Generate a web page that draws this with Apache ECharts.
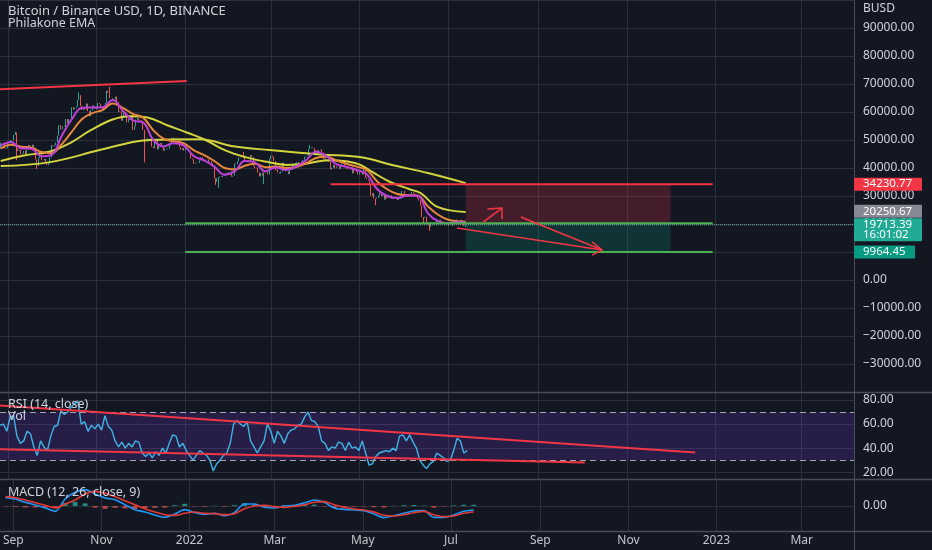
<!DOCTYPE html>
<html><head><meta charset="utf-8">
<script src="https://cdn.jsdelivr.net/npm/echarts@6/dist/echarts.min.js"></script>
<style>html,body{margin:0;padding:0;background:#131722}#c{width:932px;height:550px}</style>
</head><body><div id="c"></div><script>
// ---------- data ----------
const candleStart = '2021-08-27';
const firstOpen = 46800;
const closes = [
49000,48900,48800,46900,47100,
48800,49300,50000,49900,51800,52700,46900,46100,46400,44900,45200,46100,44900,47100,48200,47800,47300,48300,47300,43000,40700,43600,44900,42800,42700,43200,42200,41000,41500,43800,
48100,47700,48200,49100,51500,55300,53800,53900,54900,54700,57500,56000,57400,57300,61700,60900,61500,62000,64300,66000,62200,60700,61300,60900,63000,60300,58500,60600,62300,61900,61300,
61000,63200,62900,61400,61000,61500,63300,67600,66900,64900,64900,64100,64400,65500,63600,60100,60400,56900,58100,59800,58700,56300,57600,57200,58900,53600,54800,57300,57800,57000,
57200,56500,53600,49200,49400,50600,50600,50500,47700,47100,49400,50100,46700,48400,48900,47600,46200,46900,46700,46900,49000,48600,50800,50400,50800,50700,50600,47500,46500,47100,46200,
47700,47300,46400,45800,43400,43100,41500,41700,41900,41800,42700,43900,42600,43100,43200,43100,42200,42400,41700,40700,36400,35100,36300,36700,37000,36800,37200,37700,38200,37900,38500,
38700,36900,37300,41600,41400,42400,43800,44100,44400,43600,42400,42200,42100,42600,44600,43900,40600,40000,40100,38400,37000,38300,37300,38300,39200,39100,37700,43200,
44400,44000,42500,39200,39400,38400,38000,38700,41900,39400,38800,38800,37800,39700,39300,41100,40900,41800,42200,41300,41000,42400,42900,44000,44300,44500,46800,47100,47400,47100,45500,
46300,45800,46400,46600,45500,43200,43400,42300,42800,42200,39500,40100,41100,39900,40500,40400,39700,40800,41500,41400,40500,39700,39500,39500,40400,38100,39200,39700,38600,37700,
38500,38500,37700,39700,36600,36000,35500,34100,30100,31000,29100,29000,29300,30100,31300,29900,30400,28700,30300,29200,29400,30300,29100,29700,29600,29300,28600,29000,29400,31700,31800,
29800,30500,29700,29900,29900,31400,31100,30200,30100,29100,28400,26600,22500,22200,22600,20400,20500,19000,20600,20600,20700,20000,21100,21200,21500,21000,20700,20300,20100,19800,
19300,19300,19300,20200,20200,20500,21600,21600,21600,20900,20000,19300,19713.39
];
const wickLows = [['2021-09-07',42800],['2021-09-21',39600],['2021-12-04',42000],['2022-01-22',34000],['2022-01-24',33000],['2022-02-24',34300],['2022-05-12',26700],['2022-06-14',20100],['2022-06-18',17600],['2022-07-13',18900]];
const wickHighs = [['2021-09-06',52900],['2021-10-20',67000],['2021-11-10',69000],['2022-02-10',45800],['2022-03-28',48200]];

const weekDates = ['2021-08-27','2021-09-03','2021-09-10','2021-09-17','2021-09-24','2021-10-01','2021-10-08','2021-10-15','2021-10-22','2021-10-29','2021-11-05','2021-11-12','2021-11-19','2021-11-26','2021-12-03','2021-12-10','2021-12-17','2021-12-24','2021-12-31','2022-01-07','2022-01-14','2022-01-21','2022-01-28','2022-02-04','2022-02-11','2022-02-18','2022-02-25','2022-03-04','2022-03-11','2022-03-18','2022-03-25','2022-04-01','2022-04-08','2022-04-15','2022-04-22','2022-04-29','2022-05-06','2022-05-13','2022-05-20','2022-05-27','2022-06-03','2022-06-10','2022-06-17','2022-06-24','2022-07-01','2022-07-08','2022-07-13'];
const emaFast = [48000,49300,47000,46900,44200,44700,51500,57500,61500,61600,61700,64300,60500,57000,56300,50000,47700,48800,48000,44200,42700,40500,37600,38800,42500,42000,38800,40200,39300,40400,42700,45800,44300,41400,40400,39300,37800,32500,30000,29300,30200,30100,23800,21000,20300,20700,20400];
const emaMid  = [47000,48300,47600,47200,45700,45300,48500,53000,57500,59600,60700,63000,61500,59300,58000,53500,50500,49500,48800,46300,44600,42500,40000,39500,40800,41500,40300,40500,40000,40300,41600,43600,44000,42700,41500,40500,39300,35300,32400,30700,30300,30100,26300,23300,21500,21000,20800];
const ema55 = [['2021-08-27',42500],['2021-09-12',44500],['2021-09-30',45900],['2021-10-14',49000],['2021-10-28',53500],['2021-11-12',57300],['2021-11-24',58500],['2021-12-06',58000],['2021-12-20',55200],['2022-01-03',52500],['2022-01-15',50000],['2022-01-29',46200],['2022-02-12',43800],['2022-02-26',42200],['2022-03-12',41100],['2022-03-26',41600],['2022-04-09',42800],['2022-04-23',42300],['2022-05-02',41000],['2022-05-10',38500],['2022-05-22',35000],['2022-06-04',32500],['2022-06-12',31000],['2022-06-24',26000],['2022-07-13',24300]];
const ema200 = [['2021-08-27',40700],['2021-09-30',42100],['2021-11-03',46400],['2021-11-26',49300],['2021-12-07',50000],['2022-01-11',50300],['2022-02-03',47800],['2022-02-28',46400],['2022-04-04',44800],['2022-05-01',43900],['2022-05-24',41000],['2022-06-17',38200],['2022-07-13',34600]];

// drawings (date, price)
const trendLine = [['2021-08-26T12:00:00Z',68100],['2022-01-02',71100]];
const stopLevel = [['2022-04-11',34230.77],['2022-12-30',34230.77]];
const entryLevel = [['2022-01-01',20250.67],['2022-12-30',20250.67]];
const targetLevel = [['2022-01-01',9964.45],['2022-12-30',9964.45]];
const boxStart = '2022-07-13', boxEnd = '2022-12-01';
const arrowUp = [['2022-07-25',20700],['2022-08-07',25700]];
const arrowUpHead = [['2022-07-28',25400],['2022-08-07',25700],['2022-08-07',21800]];
const arrowDown1 = [['2022-08-20',22500],['2022-10-15',10700]];
const arrowDown2 = [['2022-07-07',18600],['2022-10-15',10700]];
const arrowDownHead = [['2022-10-08',13600],['2022-10-15',10700],['2022-10-08',8900]];
const lastPrice = 19713.39;

// RSI
const rsiStart = '2021-08-26T12:00:00Z';
const rsiStepDays = 2.33;
const rsiValues = [59,60,54,66,67,50,44,46,54,52,41,34,46,41,38,50,58,59,71,68,70,74,77,79,60,62,54,59,56,60,55,67,58,55,46,41,45,40,44,41,46,45,36,33,36,32,37,34,40,36,44,51,50,41,44,38,34,30,34,38,36,34,30,21,27,30,34,36,44,60,63,
60,58,62,46,41,36,41,46,60,54,44,54,50,44,52,55,56,59,60,66,70,63,62,58,46,44,38,41,40,45,44,38,45,40,41,38,46,36,26,27,33,36,37,38,37,40,38,50,51,46,51,45,40,30,26,23,27,29,36,34,32,29,30,38,48,46,36,38];
const rsiUpper = [['2021-08-26T12:00:00Z',75.5],['2022-12-18',36.4]];
const rsiLower = [['2021-08-26T12:00:00Z',39.0],['2022-10-03',28.2]];

// MACD
const macdStart = '2021-08-26T12:00:00Z';
const macdStepDays = 6.9;
const macdLine = [1300,1050,550,150,-300,-800,1050,2050,2450,1800,1200,950,200,-550,-900,-1350,-1700,-1200,-550,-1000,-1250,-1100,-1450,-950,300,300,-200,-300,0,100,450,900,550,-300,-500,-600,-700,-1200,-1750,-1450,-1100,-750,-700,-1700,-1700,-1350,-800,-600];
const signalLine = [1400,1250,900,500,100,-300,300,900,1800,2200,1900,1400,800,200,-400,-900,-1300,-1400,-1100,-900,-1100,-1150,-1300,-1150,-400,0,100,-100,-200,-50,200,550,650,200,-200,-450,-600,-900,-1400,-1500,-1300,-1000,-800,-1300,-1600,-1500,-1100,-900];
const histValues = [-60,-120,-210,-210,-240,-300,450,600,390,-240,-420,-270,-360,-450,-300,-270,-240,120,330,-60,-90,30,-90,120,420,180,-180,-120,120,90,150,210,-60,-300,-180,-90,-60,-180,-210,30,120,150,60,-240,-60,90,180,180];

// axis ticks
const tickDates = ['2021-09-01','2021-11-01','2022-01-01','2022-03-01','2022-05-01','2022-07-01','2022-09-01','2022-11-01','2023-01-01','2023-03-01'];
const tickLabels = ['Sep','Nov','2022','Mar','May','Jul','Sep','Nov','2023','Mar'];
const rsiTicks = [20,40,60,80];

// ---------- build ----------
const DAY = 864e5;
const D = s => Date.parse(s.length === 10 ? s + 'T00:00:00Z' : s);
const P = arr => arr.map(p => [D(p[0]), p[1]]);
const xMin = Date.UTC(2021,7,26,12), xMax = Date.UTC(2023,3,6,6);
const tickTimes = tickDates.map(D);

const lowMap = {}, highMap = {};
wickLows.forEach(w => lowMap[D(w[0])] = w[1]);
wickHighs.forEach(w => highMap[D(w[0])] = w[1]);
const t0 = D(candleStart);
const candles = closes.map((c, i) => {
  const t = t0 + i * DAY;
  const o = i === 0 ? firstOpen : closes[i - 1];
  let lo = Math.min(o, c), hi = Math.max(o, c);
  if (lowMap[t] !== undefined) lo = Math.min(lo, lowMap[t]);
  if (highMap[t] !== undefined) hi = Math.max(hi, highMap[t]);
  return [t, o, c, lo, hi];
});
const weekT = weekDates.map(D);
const rsiData = rsiValues.map((v, i) => [D(rsiStart) + i * rsiStepDays * DAY, v]);
const mT = i => D(macdStart) + i * macdStepDays * DAY;

const FONT = 'Noto Sans';
const LBL = '#d1d4dc';
const GRIDC = '#2c303b';
const SEP = '#4a4d58';
const L = [{top:0,h:392},{top:393,h:86},{top:480,h:51}];
const RIGHT = 78;

function xAx(i, show) {
  return {
    type:'value', gridIndex:i, min:xMin, max:xMax,
    axisLine:{show:true, onZero:false, lineStyle:{color:SEP, width:1}},
    axisTick:{show:false, customValues:tickTimes},
    splitLine:{show:true, lineStyle:{color:GRIDC, width:1}},
    axisLabel:{show:show, customValues:tickTimes, color:'#c3c6ce', fontSize:12, fontFamily:FONT, margin:4,
      formatter:v => { const k = tickTimes.indexOf(v); return k >= 0 ? tickLabels[k] : ''; }},
    axisPointer:{show:false}
  };
}
const fmt = v => (v < 0 ? '\u2212' : '') + Math.abs(v).toFixed(2);
function seg(data, color, width, xi, yi, type) {
  return {type:'line', xAxisIndex:xi||0, yAxisIndex:yi||0, data:data, symbol:'none', silent:true,
    lineStyle:{color:color, width:width, type:type||'solid'}, z:5};
}
const yLbl = {color:LBL, fontSize:12, fontFamily:FONT, margin:9, formatter:fmt};

const option = {
  backgroundColor:'#131722',
  animation:false,
  grid: L.map(g => ({left:0, right:RIGHT, top:g.top, height:g.h})),
  xAxis:[xAx(0,false), xAx(1,false), xAx(2,true)],
  yAxis:[
    {type:'value', gridIndex:0, position:'right', min:-40000, max:100000, interval:10000,
     axisLine:{show:true, lineStyle:{color:SEP}}, axisTick:{show:false},
     splitLine:{lineStyle:{color:GRIDC}},
     axisLabel:Object.assign({}, yLbl, {showMaxLabel:false, showMinLabel:false})},
    {type:'value', gridIndex:1, position:'right', min:14.4, max:85.8,
     axisLine:{show:true, lineStyle:{color:SEP}}, axisTick:{show:false, customValues:rsiTicks},
     splitLine:{show:true, lineStyle:{color:GRIDC}},
     axisLabel:Object.assign({}, yLbl, {customValues:rsiTicks})},
    {type:'value', gridIndex:2, position:'right', min:-3750, max:3900,
     axisLine:{show:true, lineStyle:{color:SEP}}, axisTick:{show:false, customValues:[0]},
     splitLine:{show:true, lineStyle:{color:GRIDC}},
     axisLabel:Object.assign({}, yLbl, {customValues:[0]})}
  ],
  series:[
    {type:'candlestick', xAxisIndex:0, yAxisIndex:0, data:candles, encode:{x:0, y:[1,2,3,4]},
     barWidth:1.2, silent:true,
     itemStyle:{color:'#26a69a', color0:'#ef5350', borderColor:'#26a69a', borderColor0:'#ef5350', borderWidth:1},
     markArea:{silent:true, data:[
       [{coord:[D(boxStart),34230.77], itemStyle:{color:'rgba(242,54,69,0.22)'}},{coord:[D(boxEnd),20250.67]}],
       [{coord:[D(boxStart),20250.67], itemStyle:{color:'rgba(8,153,129,0.22)'}},{coord:[D(boxEnd),9964.45]}]
     ]}},
    {type:'line', data:ema200.map(p=>[D(p[0]),p[1]]), symbol:'none', smooth:0.4, silent:true, lineStyle:{color:'#d4d43c', width:2}, z:3},
    {type:'line', data:ema55.map(p=>[D(p[0]),p[1]]), symbol:'none', smooth:0.4, silent:true, lineStyle:{color:'#d4d43c', width:2}, z:3},
    {type:'line', data:weekT.map((t,i)=>[t,emaMid[i]]), symbol:'none', smooth:0.4, silent:true, lineStyle:{color:'#e8873c', width:2}, z:3},
    {type:'line', data:weekT.map((t,i)=>[t,emaFast[i]]), symbol:'none', smooth:0.4, silent:true, lineStyle:{color:'#c040dc', width:2}, z:3},
    seg([[xMin,lastPrice],[xMax,lastPrice]], 'rgba(130,210,200,0.8)', 1, 0, 0, 'dotted'),
    seg(P(trendLine), '#f23645', 2),
    seg(P(stopLevel), '#f23645', 2),
    seg(P(entryLevel), '#4caf50', 2),
    seg(P(targetLevel), '#4caf50', 2),
    seg(P(arrowUp), '#f23645', 1.5),
    seg(P(arrowUpHead), '#f23645', 1.5),
    seg(P(arrowDown1), '#f23645', 1.5),
    seg(P(arrowDown2), '#f23645', 1.5),
    seg(P(arrowDownHead), '#f23645', 1.5),
    {type:'line', xAxisIndex:1, yAxisIndex:1, data:rsiData, symbol:'none', silent:true,
     lineStyle:{color:'#3fb4e6', width:1.4}, z:4,
     markArea:{silent:true, itemStyle:{color:'rgba(110,60,200,0.22)'}, data:[[{yAxis:30},{yAxis:70}]]},
     markLine:{silent:true, symbol:['none','none'], label:{show:false},
       lineStyle:{color:'#a3a6af', type:[6,4], width:1}, data:[{yAxis:70},{yAxis:30}]}},
    seg(P(rsiUpper), '#f23645', 2, 1, 1),
    seg(P(rsiLower), '#f23645', 2, 1, 1),
    {type:'bar', xAxisIndex:2, yAxisIndex:2, barWidth:5, silent:true,
     data:histValues.map((v,i)=>({value:[mT(i),v], itemStyle:{color: v>=0 ? 'rgba(38,166,154,0.8)' : 'rgba(239,83,80,0.75)'}}))},
    {type:'line', xAxisIndex:2, yAxisIndex:2, data:macdLine.map((v,i)=>[mT(i),v]), symbol:'none', smooth:0.3, silent:true, lineStyle:{color:'#2196f3', width:1.6}, z:4},
    {type:'line', xAxisIndex:2, yAxisIndex:2, data:signalLine.map((v,i)=>[mT(i),v]), symbol:'none', smooth:0.3, silent:true, lineStyle:{color:'#e53935', width:1.6}, z:4}
  ]
};

const chart = echarts.init(document.getElementById('c'), null, {renderer:'canvas'});
chart.setOption(option);

// price tags on right axis
const tags = [
  {v:34230.77, lines:['34230.77'], bg:'#f23645', dy:0, w:68},
  {v:20250.67, lines:['20250.67'], bg:'#868993', dy:-12, w:68},
  {v:19713.39, lines:['19713.39','16:01:02'], bg:'#22ab94', dy:0, w:68},
  {v:9964.45, lines:['9964.45'], bg:'#089981', dy:0, w:61}
];
const axX = 932 - RIGHT;
const g = [];
tags.forEach(t => {
  const py = chart.convertToPixel({yAxisIndex:0}, t.v) + t.dy;
  const h = 13 + (t.lines.length - 1) * 10;
  g.push({type:'rect', z:100, shape:{x:axX, y:py-6.5, width:t.w, height:h, r:1}, style:{fill:t.bg}});
  t.lines.forEach((s, k) => g.push({type:'text', z:101, x:axX+9, y:py + k*10,
    style:{text:s, fill:'#ffffff', font:'11.5px "' + FONT + '"', verticalAlign:'middle'}}));
});
const texts = [
  ['Bitcoin / Binance USD, 1D, BINANCE', 8, 11, 13],
  ['Philakone EMA', 8, 23, 12.5],
  ['RSI (14, close)', 8, 404, 12.5],
  ['Vol', 8, 416, 12.5],
  ['MACD (12, 26, close, 9)', 8, 492, 12.5],
  ['BUSD', axX + 9, 9, 12]
];
texts.forEach(t => g.push({type:'text', z:102, x:t[1], y:t[2],
  style:{text:t[0], fill:LBL, font:t[3] + 'px "' + FONT + '"', verticalAlign:'middle'}}));
L.forEach(p => g.push({type:'line', z:50, shape:{x1:0, y1:p.top+p.h+0.5, x2:932, y2:p.top+p.h+0.5}, style:{stroke:SEP, lineWidth:1.5}}));
g.push({type:'line', z:50, shape:{x1:axX+0.5, y1:L[2].top+L[2].h, x2:axX+0.5, y2:550}, style:{stroke:SEP, lineWidth:1}});
chart.setOption({graphic:g});
</script></body></html>
